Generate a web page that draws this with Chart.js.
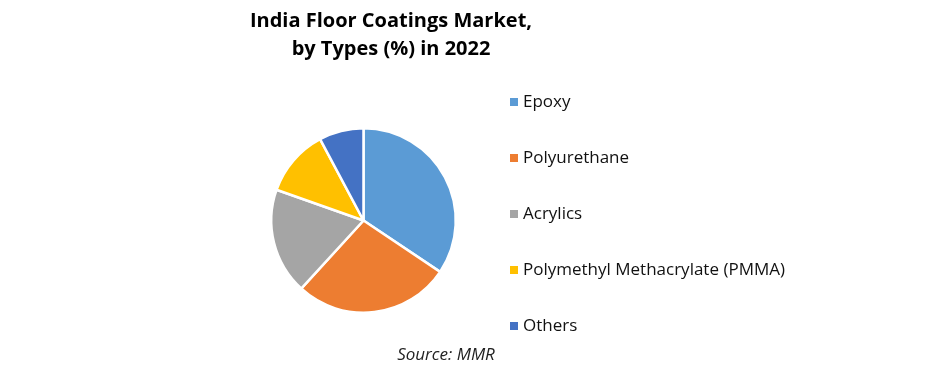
<!DOCTYPE html>
<html>
<head>
<meta charset="utf-8">
<script src="https://cdn.jsdelivr.net/npm/chart.js@4.4.0/dist/chart.umd.min.js"></script>
<style>
html,body{margin:0;padding:0;background:#fff;}
#wrap{position:relative;width:940px;height:379px;}
</style>
</head>
<body>
<div id="wrap"><canvas id="c" width="940" height="379"></canvas></div>
<script>
const titleLines = ["India Floor Coatings Market,", "by Types (%) in 2022"];
const categories = ["Epoxy", "Polyurethane", "Acrylics", "Polymethyl Methacrylate (PMMA)", "Others"];
const shares = [34.4, 27.4, 18.6, 11.8, 7.8];
const colors = ["#5B9BD5", "#ED7D31", "#A5A5A5", "#FFC000", "#4472C4"];
const sourceText = "Source: MMR";

const FONT = "'Open Sans', 'Noto Sans', sans-serif";

const decor = {
  id: 'decor',
  afterDraw(chart) {
    const ctx = chart.ctx;
    ctx.save();
    // title
    ctx.fillStyle = '#000';
    ctx.textAlign = 'center';
    ctx.textBaseline = 'middle';
    ctx.font = "bold 20px " + FONT;
    ctx.fillText(titleLines[0], 391, 21);
    ctx.fillText(titleLines[1], 391, 49);
    // legend
    ctx.textAlign = 'left';
    ctx.font = "17px " + FONT;
    const labels = chart.data.labels;
    const bg = chart.data.datasets[0].backgroundColor;
    labels.forEach((lab, i) => {
      const y = 102 + i * 56;
      ctx.fillStyle = bg[i];
      ctx.fillRect(510, y - 4, 8, 8);
      ctx.fillStyle = '#111';
      ctx.fillText(lab, 523, y);
    });
    // source
    ctx.textAlign = 'center';
    ctx.font = "italic 17px " + FONT;
    ctx.fillStyle = '#222';
    ctx.fillText(sourceText, 446, 355);
    ctx.restore();
  }
};

new Chart(document.getElementById('c'), {
  type: 'pie',
  data: {
    labels: categories,
    datasets: [{
      data: shares,
      backgroundColor: colors,
      borderColor: '#ffffff',
      borderWidth: 2.5
    }]
  },
  options: {
    responsive: false,
    animation: false,
    layout: { padding: { left: 270, right: 483, top: 127, bottom: 65 } },
    plugins: {
      legend: { display: false },
      tooltip: { enabled: false },
      title: { display: false }
    }
  },
  plugins: [decor]
});
</script>
</body>
</html>
